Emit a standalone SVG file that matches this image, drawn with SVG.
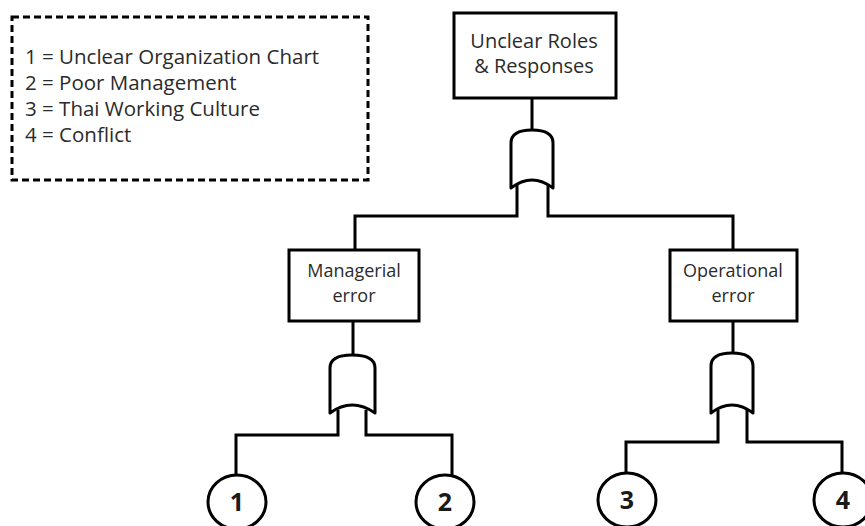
<svg xmlns="http://www.w3.org/2000/svg" width="865" height="526" viewBox="0 0 865 526">
  <style>
    .box { fill: #ffffff; stroke: #000000; stroke-width: 3; }
    .gate { fill: #ffffff; stroke: #000000; stroke-width: 3; stroke-linejoin: round; }
    .wire { fill: none; stroke: #000000; stroke-width: 3; stroke-linejoin: miter; }
    .label { font-family: "Open Sans", "Liberation Sans", sans-serif; fill: #2b2b2b; }
    .key { font-size: 20.5px; }
    .head { font-size: 20px; }
    .sub { font-size: 18px; }
    .mid { text-anchor: middle; }
    .num { font-family: "Open Sans", "Liberation Sans", sans-serif; font-size: 25px; font-weight: bold; fill: #1a1a1a; text-anchor: middle; }
    .legend { fill: #ffffff; stroke: #000000; stroke-width: 3; stroke-dasharray: 7 4; }
  </style>

  <rect width="865" height="526" fill="#ffffff"/>

  <!-- legend -->
  <g id="legend">
    <rect class="legend" x="12" y="17" width="356" height="163"/>
    <text class="label key" x="25" y="64">1 = Unclear Organization Chart</text>
    <text class="label key" x="25" y="90">2 = Poor Management</text>
    <text class="label key" x="25" y="116">3 = Thai Working Culture</text>
    <text class="label key" x="25" y="142">4 = Conflict</text>
  </g>

  <!-- connectors -->
  <g id="connectors">
    <path class="wire" d="M532,98 V131"/>
    <path class="wire" d="M517,185 V216 H355 V250"/>
    <path class="wire" d="M548,185 V216 H733 V250"/>
    <path class="wire" d="M353,321 V356"/>
    <path class="wire" d="M338,410 V435 H236 V475"/>
    <path class="wire" d="M366,410 V435 H452 V475"/>
    <path class="wire" d="M733,321 V354"/>
    <path class="wire" d="M718,410 V442 H626 V473"/>
    <path class="wire" d="M747,410 V442 H842 V473"/>
  </g>

  <!-- top event -->
  <g id="top-event">
    <rect class="box" x="454" y="13" width="162" height="85"/>
    <text class="label head mid" x="534" y="48">Unclear Roles</text>
    <text class="label head mid" x="534" y="73">&amp; Responses</text>
  </g>

  <!-- OR gates -->
  <g id="gate-top">
    <path class="gate" d="M511,188 V143 C511,133 520,130 532,130 C544,130 553,133 553,143 V188 Q532,172 511,188 Z"/>
  </g>
  <g id="gate-managerial">
    <path class="gate" d="M330,413 V368 C330,358 340,355 352,355 C364,355 375,358 375,368 V413 Q352,397 330,413 Z"/>
  </g>
  <g id="gate-operational">
    <path class="gate" d="M711,413 V366 C711,356 720,353 732,353 C744,353 753,356 753,366 V413 Q732,397 711,413 Z"/>
  </g>

  <!-- intermediate events -->
  <g id="managerial-error">
    <rect class="box" x="289" y="250" width="130" height="71"/>
    <text class="label sub mid" x="354" y="277">Managerial</text>
    <text class="label sub mid" x="354" y="302">error</text>
  </g>
  <g id="operational-error">
    <rect class="box" x="670" y="250" width="127" height="71"/>
    <text class="label sub mid" x="733" y="277">Operational</text>
    <text class="label sub mid" x="733" y="302">error</text>
  </g>

  <!-- basic events -->
  <g id="event-1">
    <ellipse class="box" cx="237" cy="502" rx="29" ry="27"/>
    <text class="num" x="237" y="511">1</text>
  </g>
  <g id="event-2">
    <ellipse class="box" cx="445" cy="502" rx="29" ry="27"/>
    <text class="num" x="445" y="511">2</text>
  </g>
  <g id="event-3">
    <ellipse class="box" cx="627" cy="500" rx="29" ry="27"/>
    <text class="num" x="627" y="509">3</text>
  </g>
  <g id="event-4">
    <ellipse class="box" cx="843" cy="500" rx="29" ry="27"/>
    <text class="num" x="843" y="509">4</text>
  </g>
</svg>
